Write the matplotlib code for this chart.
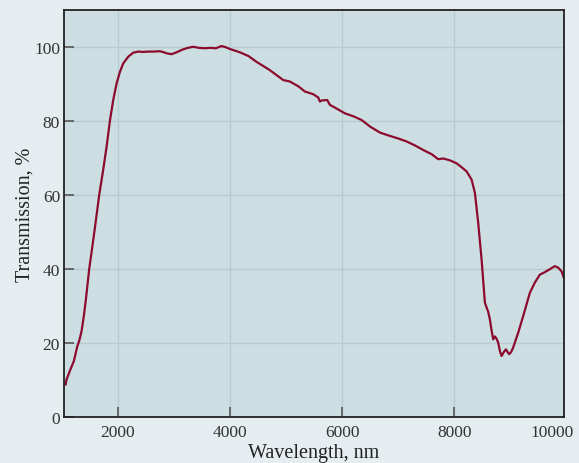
import matplotlib
matplotlib.use("Agg")
import matplotlib.pyplot as plt
from matplotlib.transforms import offset_copy

wavelength = [1074, 1092, 1150, 1222, 1280, 1320, 1359, 1400, 1435, 1494, 1540, 1590, 1672,
              1743, 1804, 1863, 1922, 1982, 2041, 2100, 2189, 2278, 2367, 2450, 2550, 2650,
              2750, 2806, 2880, 2962, 3050, 3150, 3250, 3346, 3450, 3550, 3650, 3750, 3852,
              3920, 4000, 4178, 4330, 4476, 4700, 4950, 5069, 5220, 5336, 5480, 5573, 5603,
              5640, 5733, 5781, 5900, 6048, 6200, 6345, 6500, 6672, 6850, 7000, 7147, 7300,
              7443, 7600, 7710, 7799, 7918, 8037, 8130, 8216, 8305, 8364, 8423, 8483, 8542,
              8600, 8631, 8660, 8690, 8720, 8750, 8779, 8810, 8839, 8880, 8916, 8950, 8975,
              9010, 9046, 9135, 9224, 9343, 9430, 9521, 9600, 9669, 9788, 9847, 9907, 9948]
transmission = [8.8, 10.2, 12.5, 15.2, 19.0, 20.8, 23.3, 27.5, 31.8, 40.0, 45.0, 50.5, 60.0,
                66.8, 73.1, 80.1, 85.7, 90.2, 93.3, 95.6, 97.4, 98.5, 98.8, 98.7, 98.8, 98.8,
                98.9, 98.7, 98.3, 98.1, 98.6, 99.3, 99.8, 100.1, 99.8, 99.7, 99.8, 99.7, 100.3,
                100.0, 99.5, 98.6, 97.6, 96.0, 93.9, 91.1, 90.7, 89.4, 88.0, 87.3, 86.4, 85.3,
                85.6, 85.7, 84.4, 83.4, 82.1, 81.3, 80.3, 78.5, 76.9, 76.0, 75.3, 74.5, 73.4,
                72.2, 71.0, 69.7, 69.9, 69.4, 68.6, 67.5, 66.4, 64.2, 60.6, 52.5, 42.6, 30.9,
                28.5, 26.4, 23.5, 21.0, 21.8, 21.2, 20.1, 17.8, 16.5, 17.6, 18.3, 17.5, 17.0,
                17.6, 18.8, 22.8, 27.3, 33.6, 36.3, 38.5, 39.1, 39.7, 40.8, 40.4, 39.4, 37.7]
x_ticks = [2000, 4000, 6000, 8000]
y_ticks = [0, 20, 40, 60, 80, 100]

fig_bg = "#e6edf0"
ax_bg = "#cddee2"
line_color = "#8c0a2e"
grid_color = "#b7cbd0"
tick_fs = 12.5
label_fs = 14.5

plt.rcParams["font.family"] = ["Liberation Serif", "DejaVu Serif"]

fig = plt.figure(figsize=(5.79, 4.64), dpi=100, facecolor=fig_bg)
ax = fig.add_axes([0.111, 0.099, 0.863, 0.877], facecolor=ax_bg)

ax.plot(wavelength, transmission, color=line_color, lw=1.6, solid_joinstyle="round")

ax.set_xlim(1050, 9950)
ax.set_ylim(0, 110)
ax.set_xticks(x_ticks)
ax.set_yticks(y_ticks)
ax.grid(True, color=grid_color, lw=1.0)
ax.set_axisbelow(True)

ax.tick_params(direction="in", length=7, width=1.2, color="#555555",
               labelsize=tick_fs, labelcolor="#333333")
ax.tick_params(axis="x", pad=5)
ax.tick_params(axis="y", pad=3)
for s in ax.spines.values():
    s.set_color("#222222")
    s.set_linewidth(1.3)

trans = offset_copy(ax.transAxes, fig=fig, x=0, y=-5, units="points")
ax.text(0.976, 0.0, "10000", transform=trans, ha="center", va="top",
        fontsize=tick_fs, color="#333333")

ax.set_xlabel("Wavelength, nm", fontsize=label_fs, color="#222222", labelpad=2)
ax.set_ylabel("Transmission, %", fontsize=label_fs, color="#222222", labelpad=0)

fig.savefig("out.png", dpi=100, facecolor=fig_bg)
